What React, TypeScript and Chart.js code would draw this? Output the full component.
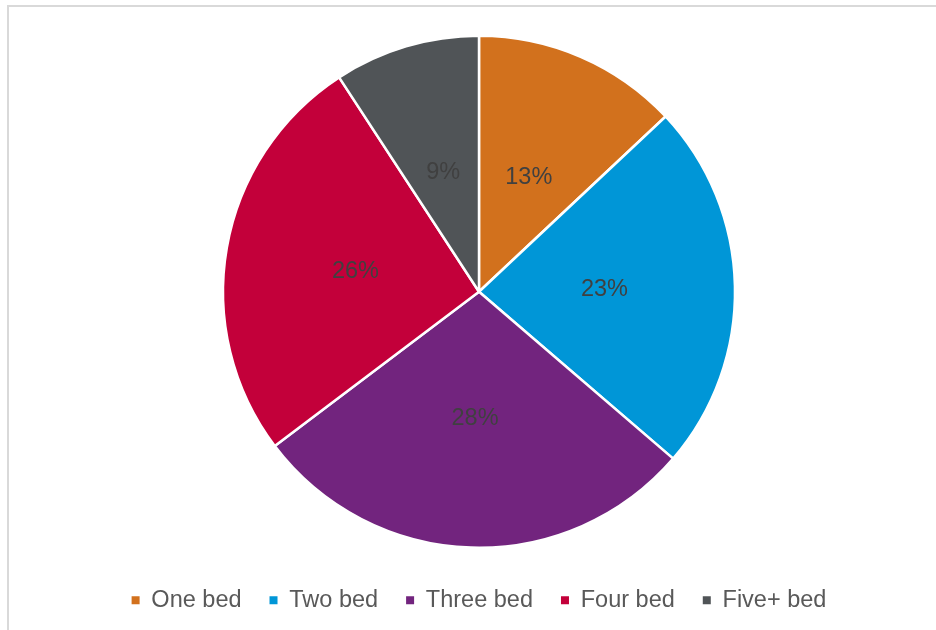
import React, { useEffect, useRef } from "react";
import { Chart, registerables } from "chart.js";

Chart.register(...registerables);

const categories = ["One bed", "Two bed", "Three bed", "Four bed", "Five+ bed"];
const shares = [13.0, 23.3, 28.4, 26.1, 9.2];
const colors = ["#D2711D", "#0096D7", "#72247E", "#C3003A", "#505457"];

const FONT = "'Liberation Sans', Arial, sans-serif";

const pctLabels = {
  id: "pctLabels",
  afterDatasetsDraw(chart: any) {
    const ctx = chart.ctx;
    const meta = chart.getDatasetMeta(0);
    const data = chart.data.datasets[0].data as number[];
    ctx.save();
    ctx.font = `23.5px ${FONT}`;
    ctx.fillStyle = "#404040";
    ctx.textAlign = "center";
    ctx.textBaseline = "middle";
    meta.data.forEach((arc: any, i: number) => {
      const { startAngle, endAngle, outerRadius, x, y } = arc.getProps(
        ["startAngle", "endAngle", "outerRadius", "x", "y"],
        true
      );
      const mid = (startAngle + endAngle) / 2;
      const r = outerRadius * 0.49;
      ctx.fillText(`${Math.round(data[i])}%`, x + Math.cos(mid) * r, y + Math.sin(mid) * r + 1);
    });
    ctx.restore();
  },
};

export default function App() {
  const ref = useRef<HTMLCanvasElement>(null);
  useEffect(() => {
    if (!ref.current) return;
    const chart = new Chart(ref.current, {
      type: "pie",
      data: {
        labels: categories,
        datasets: [
          {
            data: shares,
            backgroundColor: colors,
            borderColor: "#ffffff",
            borderWidth: 2.5,
            radius: 256,
          },
        ],
      },
      options: {
        responsive: false,
        animation: false,
        layout: { padding: { top: 23, bottom: 8, left: 22, right: 0 } },
        plugins: {
          tooltip: { enabled: false },
          title: { display: false },
          legend: {
            position: "bottom",
            labels: {
              boxWidth: 8,
              boxHeight: 8,
              padding: 28,
              color: "#595959",
              font: { family: FONT, size: 23.5 },
              generateLabels: (chart: any) =>
                categories.map((c, i) => ({
                  text: c,
                  fillStyle: colors[i],
                  strokeStyle: colors[i],
                  lineWidth: 0,
                  hidden: false,
                  index: i,
                  fontColor: "#595959",
                })),
            },
          },
        },
      },
      plugins: [pctLabels],
    });
    return () => chart.destroy();
  }, []);
  return (
    <div style={{ position: "fixed", left: 0, top: 0, width: 936, height: 630, background: "#fff", overflow: "hidden" }}>
      <div
        style={{
          position: "absolute",
          left: 7,
          top: 5,
          width: 960,
          height: 660,
          borderLeft: "2px solid #d9d9d9",
          borderTop: "2px solid #d9d9d9",
        }}
      />
      <canvas ref={ref} width={936} height={630} style={{ position: "absolute", left: 0, top: 0 }} />
    </div>
  );
}
